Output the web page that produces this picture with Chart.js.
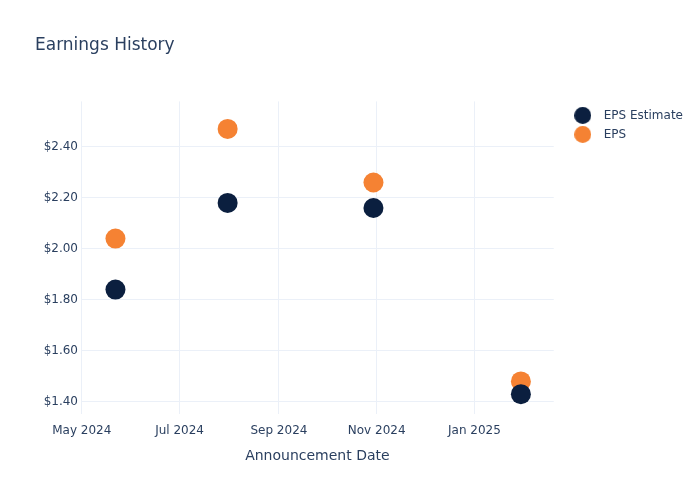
<!DOCTYPE html>
<html>
<head>
<meta charset="utf-8">
<script src="https://cdn.jsdelivr.net/npm/chart.js@4.4.1/dist/chart.umd.min.js"></script>
<style>
  html, body { margin: 0; padding: 0; background: #fff; }
  #wrap { width: 700px; height: 500px; }
</style>
</head>
<body>
<div id="wrap"><canvas id="earningsChart"></canvas></div>
<script>
// data
const announceDates = ['2024-05-22', '2024-07-31', '2024-10-30', '2025-01-30'];
const epsEstimate = [1.84, 2.18, 2.16, 1.43];
const epsActual = [2.04, 2.47, 2.26, 1.48];
const monthTicks = ['2024-05-01', '2024-07-01', '2024-09-01', '2024-11-01', '2025-01-01'];
const yTicks = [1.4, 1.6, 1.8, 2.0, 2.2, 2.4];
const xRange = ['2024-04-30T12:00:00Z', '2025-02-19T12:00:00Z'];
const yRange = [1.353, 2.578];

const monthNames = ['Jan', 'Feb', 'Mar', 'Apr', 'May', 'Jun', 'Jul', 'Aug', 'Sep', 'Oct', 'Nov', 'Dec'];
const textColor = '#2a3f5f';
const gridColor = '#ebf0f8';
const fontFamily = '"DejaVu Sans", sans-serif';

const toTime = s => Date.parse(s.length === 10 ? s + 'T00:00:00Z' : s);
const toPoints = vals => announceDates.map((d, i) => ({ x: toTime(d), y: vals[i] }));
const monthLabel = t => {
    const d = new Date(t);
    return monthNames[d.getUTCMonth()] + ' ' + d.getUTCFullYear();
};

// small round swatch for the legend, so the text can sit further from the dot
function legendDot(color) {
    const c = document.createElement('canvas');
    c.width = 17;
    c.height = 17;
    const g = c.getContext('2d');
    g.fillStyle = color;
    g.beginPath();
    g.arc(8.5, 8.5, 8.5, 0, Math.PI * 2);
    g.fill();
    return c;
}

// push the legend a little away from the plot
const legendNudge = {
    id: 'legendNudge',
    afterLayout(chart) {
        chart.legend.left += 7;
        chart.legend.right += 7;
        chart.legend.top += 1;
    }
};

const ctx = document.getElementById('earningsChart').getContext('2d');

const earningsChart = new Chart(ctx, {
    type: 'scatter',
    data: {
        datasets: [{
            label: 'EPS Estimate',
            data: toPoints(epsEstimate),
            backgroundColor: '#0b1f3f',
            borderWidth: 0,
            pointRadius: 10,
            pointHoverRadius: 10
        }, {
            label: 'EPS',
            data: toPoints(epsActual),
            backgroundColor: '#f58233',
            borderWidth: 0,
            pointRadius: 10,
            pointHoverRadius: 10
        }]
    },
    options: {
        responsive: true,
        maintainAspectRatio: false,
        animation: false,
        layout: {
            padding: { left: 35, right: 14, top: 0, bottom: 31 }
        },
        scales: {
            x: {
                type: 'linear',
                min: toTime(xRange[0]),
                max: toTime(xRange[1]),
                afterBuildTicks: axis => {
                    axis.ticks = monthTicks.map(m => ({ value: toTime(m) }));
                },
                ticks: {
                    color: textColor,
                    font: { family: fontFamily, size: 12 },
                    padding: 10,
                    maxRotation: 0,
                    callback: value => monthLabel(value)
                },
                grid: { color: gridColor, drawTicks: false },
                border: { display: false },
                title: {
                    display: true,
                    text: 'Announcement Date',
                    color: textColor,
                    font: { family: fontFamily, size: 14 },
                    padding: { top: 0, bottom: 4 }
                }
            },
            y: {
                min: yRange[0],
                max: yRange[1],
                afterBuildTicks: axis => {
                    axis.ticks = yTicks.map(v => ({ value: v }));
                },
                afterFit: scale => {
                    scale.width = 46;
                },
                ticks: {
                    color: textColor,
                    font: { family: fontFamily, size: 12 },
                    padding: 3,
                    callback: value => '$' + value.toFixed(2)
                },
                grid: { color: gridColor, drawTicks: false },
                border: { display: false }
            }
        },
        plugins: {
            title: {
                display: true,
                text: 'Earnings History',
                align: 'start',
                color: textColor,
                font: { family: fontFamily, size: 17, weight: 'normal' },
                padding: { top: 35, bottom: 46 }
            },
            legend: {
                position: 'right',
                align: 'start',
                fullSize: false,
                labels: {
                    usePointStyle: true,
                    pointStyleWidth: 30,
                    padding: 7,
                    color: textColor,
                    font: { family: fontFamily, size: 12 },
                    generateLabels: chart =>
                        Chart.defaults.plugins.legend.labels.generateLabels(chart)
                            .map(item => ({ ...item, pointStyle: legendDot(item.fillStyle) }))
                }
            },
            tooltip: { enabled: false }
        }
    },
    plugins: [legendNudge]
});
</script>
</body>
</html>
